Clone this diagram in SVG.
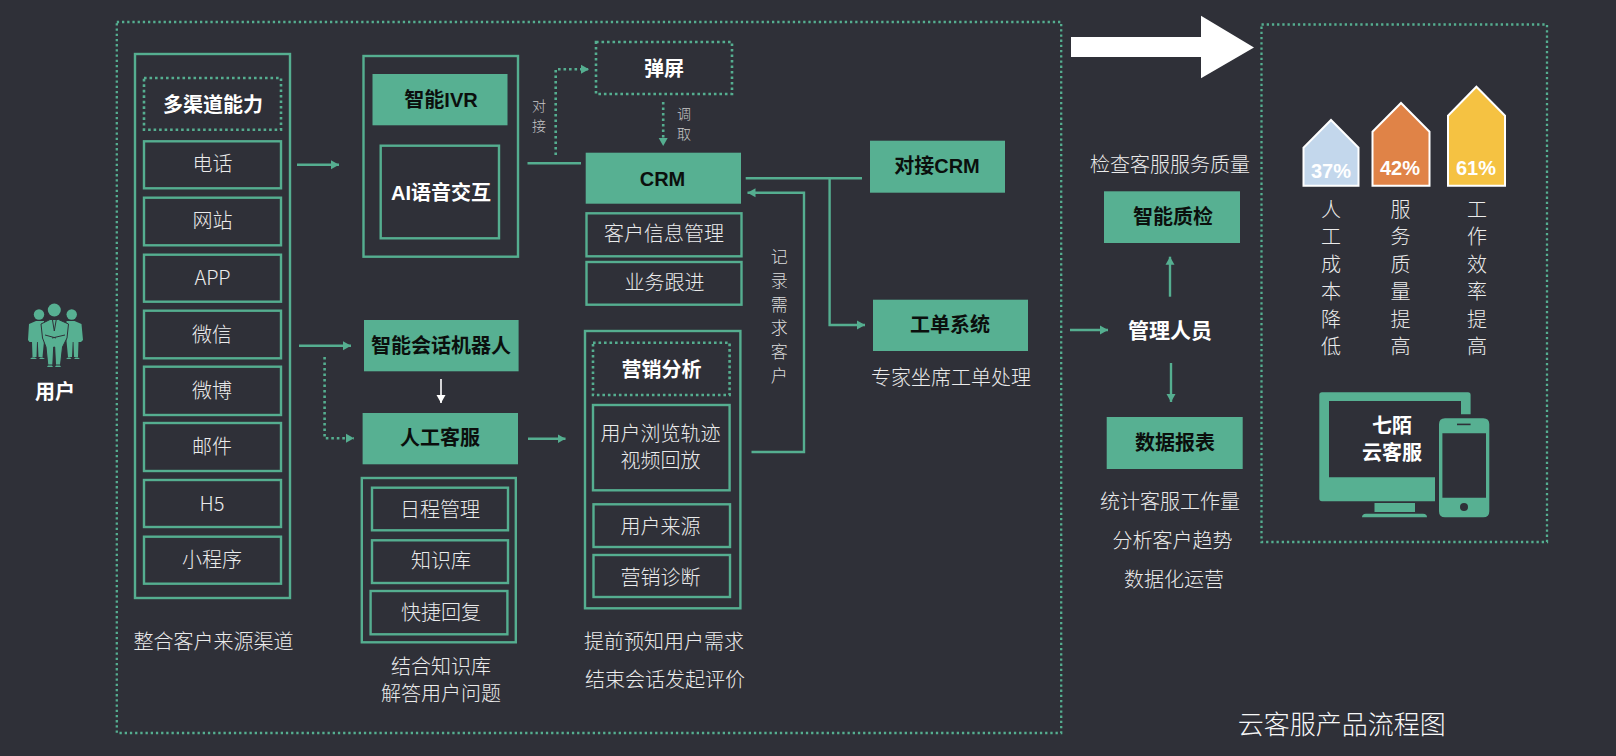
<svg xmlns="http://www.w3.org/2000/svg" width="1616" height="756" viewBox="0 0 1616 756">
<style>
text{font-family:"Liberation Sans","Noto Sans CJK SC",sans-serif;text-anchor:middle;dominant-baseline:central;font-size:20px}
.l{fill:#ebebeb;font-family:"Noto Sans CJK SC","Liberation Sans",sans-serif;font-weight:300;transform:translateY(-1.2px)}
.w{fill:#fff;font-weight:700;transform:translateY(0.5px)}
.k{fill:#0b0f0d;font-weight:700}
.s{font-size:14px;fill:#c8c8c8}
.m{font-size:17px;fill:#dcdcdc}
.b{fill:none;stroke:#55ae90;stroke-width:2.4}
.d{fill:none;stroke:#55ae90;stroke-width:2.6;stroke-dasharray:2.6 2.9}
.o{fill:none;stroke:#55ae90;stroke-width:2.3;stroke-dasharray:2.3 2.9}
.f{fill:#57b092}
.c{fill:none;stroke:#55ae90;stroke-width:2.4}
.h{stroke:#fff;stroke-width:2}
</style>
<defs>
<marker id="ag" markerUnits="userSpaceOnUse" markerWidth="9" markerHeight="10" refX="8" refY="5" orient="auto"><path d="M0 0.5L8 5L0 9.5z" fill="#55ae90"/></marker>
<marker id="aw" markerUnits="userSpaceOnUse" markerWidth="9" markerHeight="10" refX="8" refY="5" orient="auto"><path d="M0 0.5L8 5L0 9.5z" fill="#fff"/></marker>
</defs>
<rect width="1616" height="756" fill="#2f3038"/>
<rect class="o" x="116.8" y="22" width="944.4" height="711"/>
<rect class="o" x="1261.5" y="24.5" width="285.5" height="517.5"/>

<g id="connectors">
<path class="c" d="M297 164.7H339" marker-end="url(#ag)"/>
<path class="c" d="M299 345.7H351" marker-end="url(#ag)"/>
<path class="d" d="M324.6 357V438.3H354" marker-end="url(#ag)"/>
<path d="M441 379V403" fill="none" stroke="#fff" stroke-width="1.6" marker-end="url(#aw)"/>
<path class="c" d="M528 438.7H565.5" marker-end="url(#ag)"/>
<path class="c" d="M527.5 163.3H581"/>
<path class="d" d="M555.7 155V69.3H589" marker-end="url(#ag)"/>
<path class="d" d="M663.2 102V146" marker-end="url(#ag)"/>
<path class="c" d="M745.7 178.3H862"/>
<path class="c" d="M829.6 178.3V325H865" marker-end="url(#ag)"/>
<path class="c" d="M751.5 452H804V192.7H747.5" marker-end="url(#ag)"/>
<path class="c" d="M1070 330H1108" marker-end="url(#ag)"/>
<path class="c" d="M1170 296.7V256.7" marker-end="url(#ag)"/>
<path class="c" d="M1171 363V402" marker-end="url(#ag)"/>
<path d="M1071 37H1201V15.7L1254 47.5L1201 78.3V57H1071z" fill="#fff"/>
</g>

<g id="user">
<g class="f">
<circle cx="39" cy="314.5" r="5.2"/><circle cx="71.7" cy="314.5" r="5.2"/>
<path d="M29 324L36 321H44V341L42.5 357H38.5L37.8 342H37L36.5 357H32.5L32 342H29.5L28 340z"/>
<path d="M81.5 324L74.5 321H66.500V341L68 357H72L72.700 342H73.500L74 357H78L78.500 342H81L83 340z"/>
<circle cx="54.300" cy="310" r="6.500"/>
<path d="M41 324L50 319.500H58.500L68.500 324L67 338L62.500 347L60.500 365H55.500L54.700 347H53.700L52.800 365H47.800L46 347L42.500 338z" stroke="#2f3038" stroke-width="1"/>
<path d="M30 359H37L35 357.500H32zM39 359H45L42.500 357.500H40.500zM66 359H71.500L70 357.500H68zM74 359H80L78 357.500H75.500zM47 367H53L52 365.500H48zM55 367H61L60 365.500H56z"/>
</g>
<path d="M45 335L56 338M65 335L52 338M52.500 320L54.300 331L56.200 320" fill="none" stroke="#2f3038" stroke-width="1"/>
<text class="w" x="55" y="391">用户</text>
</g>

<g id="channels">
<rect class="b" x="135" y="54" width="155" height="544"/>
<rect class="d" x="144" y="78" width="137" height="51.7"/>
<text class="w" x="213" y="104">多渠道能力</text>
<rect class="b" x="144" y="141.3" width="137" height="47"/><text class="l" x="212.5" y="164">电话</text>
<rect class="b" x="144" y="197.7" width="137" height="47.600"/><text class="l" x="212.5" y="221">网站</text>
<rect class="b" x="144" y="254.7" width="137" height="47"/><text class="l" x="212.5" y="278">APP</text>
<rect class="b" x="144" y="310.7" width="137" height="47.600"/><text class="l" x="212" y="335">微信</text>
<rect class="b" x="144" y="366.7" width="137" height="48.300"/><text class="l" x="212" y="391">微博</text>
<rect class="b" x="144" y="423" width="137" height="48"/><text class="l" x="212" y="447">邮件</text>
<rect class="b" x="144" y="480" width="137" height="47"/><text class="l" x="212" y="504">H5</text>
<rect class="b" x="144" y="536.7" width="137" height="47"/><text class="l" x="212" y="560">小程序</text>
<text class="l" x="213.4" y="642">整合客户来源渠道</text>
</g>

<g id="ivr">
<rect class="b" x="363.5" y="56" width="154.5" height="200.7"/>
<rect class="f" x="372.5" y="74" width="135" height="51.3"/><text class="k" x="441" y="100">智能IVR</text>
<rect class="b" x="380.7" y="145.7" width="118.3" height="92.6"/><text class="w" x="441" y="192">AI语音交互</text>
<text class="l s" x="539" y="106">对</text><text class="l s" x="539" y="126">接</text>
</g>

<g id="popup">
<rect class="d" x="596" y="42" width="136" height="52"/><text class="w" x="664" y="68">弹屏</text>
<text class="l s" x="684" y="114.7">调</text><text class="l s" x="684" y="134.7">取</text>
</g>

<g id="crm">
<rect class="f" x="585.7" y="152.7" width="155.3" height="51"/><text class="k" x="662.5" y="179">CRM</text>
<rect class="b" x="586.500" y="213.3" width="155" height="43"/><text class="l" x="664" y="234">客户信息管理</text>
<rect class="b" x="586.500" y="262" width="155" height="42.7"/><text class="l" x="664.5" y="283">业务跟进</text>
</g>

<g id="bot">
<rect class="f" x="364" y="320" width="154.6" height="51.3"/><text class="k" x="441" y="346">智能会话机器人</text>
</g>

<g id="agent">
<rect class="f" x="362.6" y="413" width="155.4" height="51.3"/><text class="k" x="440" y="438">人工客服</text>
<rect class="b" x="361.8" y="478" width="154" height="164.3"/>
<rect class="b" x="372" y="487.7" width="136" height="42.6"/><text class="l" x="440" y="510">日程管理</text>
<rect class="b" x="372" y="540.3" width="136" height="42.7"/><text class="l" x="441" y="561">知识库</text>
<rect class="b" x="370.6" y="591" width="136.8" height="43.3"/><text class="l" x="441" y="613">快捷回复</text>
<text class="l" x="441" y="667">结合知识库</text><text class="l" x="441" y="694">解答用户问题</text>
</g>

<g id="marketing">
<rect class="b" x="585" y="331" width="155.4" height="277.3"/>
<rect class="d" x="593" y="342.7" width="136.6" height="52.3"/><text class="w" x="661.5" y="369">营销分析</text>
<rect class="b" x="593" y="405" width="136.6" height="85.3"/>
<text class="l" x="660.6" y="434">用户浏览轨迹</text><text class="l" x="660.6" y="461">视频回放</text>
<rect class="b" x="593.500" y="504.3" width="136.500" height="42.7"/><text class="l" x="660.6" y="527">用户来源</text>
<rect class="b" x="593.500" y="555" width="136.500" height="42"/><text class="l" x="660.6" y="578">营销诊断</text>
<text class="l" x="664" y="642">提前预知用户需求</text><text class="l" x="665" y="680">结束会话发起评价</text>
</g>

<g id="record-label">
<text class="l m" x="779.3" y="256.7">记</text><text class="l m" x="779.3" y="280.500">录</text><text class="l m" x="779.3" y="304.300">需</text><text class="l m" x="779.3" y="328">求</text><text class="l m" x="779.3" y="351.800">客</text><text class="l m" x="779.3" y="375.500">户</text>
</g>

<g id="dock-crm"><rect class="f" x="870" y="140.7" width="135" height="52"/><text class="k" x="937" y="166">对接CRM</text></g>
<g id="ticket"><rect class="f" x="873" y="299.7" width="155" height="51.3"/><text class="k" x="950" y="325">工单系统</text><text class="l" x="951" y="377.7">专家坐席工单处理</text></g>

<g id="manager"><text class="w" style="font-size:21px" x="1170" y="330">管理人员</text></g>
<g id="qa"><text class="l" x="1170" y="165">检查客服服务质量</text><rect class="f" x="1104" y="191.3" width="136" height="51.7"/><text class="k" x="1173" y="217">智能质检</text></g>
<g id="report"><rect class="f" x="1106.7" y="417" width="136" height="52"/><text class="k" x="1175" y="443">数据报表</text>
<text class="l" x="1170" y="501.3">统计客服工作量</text><text class="l" x="1172.6" y="540.7">分析客户趋势</text><text class="l" x="1174" y="580">数据化运营</text></g>

<g id="result-37"><path class="h" fill="#c3d7ec" d="M1303.5 147.7L1331 120L1358.5 147.7V185.7H1303.5z"/><text class="w" x="1331" y="170.3">37%</text>
<text class="l" x="1331" y="209.7">人</text><text class="l" x="1331" y="237">工</text><text class="l" x="1331" y="264.3">成</text><text class="l" x="1331" y="292">本</text><text class="l" x="1331" y="319.3">降</text><text class="l" x="1331" y="346.7">低</text></g>
<g id="result-42"><path class="h" fill="#e08347" d="M1372.5 131.7L1401 103L1429.5 131.7V185.7H1372.5z"/><text class="w" x="1400" y="167">42%</text>
<text class="l" x="1400.5" y="209.7">服</text><text class="l" x="1400.5" y="237">务</text><text class="l" x="1400.5" y="264.3">质</text><text class="l" x="1400.5" y="292">量</text><text class="l" x="1400.5" y="319.3">提</text><text class="l" x="1400.5" y="346.7">高</text></g>
<g id="result-61"><path class="h" fill="#f5c242" d="M1448 115.7L1476.4 86.7L1505 115.7V185.7H1448z"/><text class="w" x="1476" y="167">61%</text>
<text class="l" x="1477" y="209.7">工</text><text class="l" x="1477" y="237">作</text><text class="l" x="1477" y="264.3">效</text><text class="l" x="1477" y="292">率</text><text class="l" x="1477" y="319.3">提</text><text class="l" x="1477" y="346.7">高</text></g>

<g id="product">
<path class="f" fill-rule="evenodd" d="M1322 392.3H1468Q1470.6 392.3 1470.6 395V414.3H1461V401H1329V477.3H1435V501.3H1322Q1319.3 501.3 1319.3 498.5V395Q1319.3 392.3 1322 392.3z"/>
<rect class="f" x="1374.5" y="503" width="40.5" height="9"/>
<path class="f" d="M1362 517.3Q1362 513.7 1366 513.7H1423Q1427 513.7 1427 517.3z"/>
<path class="f" fill-rule="evenodd" d="M1445 418.3H1483.3Q1489.3 418.3 1489.3 424.3V511.3Q1489.3 517.3 1483.3 517.3H1445Q1439 517.3 1439 511.3V424.3Q1439 418.3 1445 418.3zM1442.4 433.3V497.7H1486V433.3z"/>
<rect x="1457" y="423.6" width="13.6" height="1.6" fill="#2f3038"/>
<circle cx="1464" cy="507" r="4" fill="#2f3038"/>
<text class="w" x="1392" y="425">七陌</text><text class="w" x="1392" y="452.3">云客服</text>
</g>

<text x="1341.7" y="724" style="font-size:26px;fill:#f8f8f8" class="l">云客服产品流程图</text>
</svg>
